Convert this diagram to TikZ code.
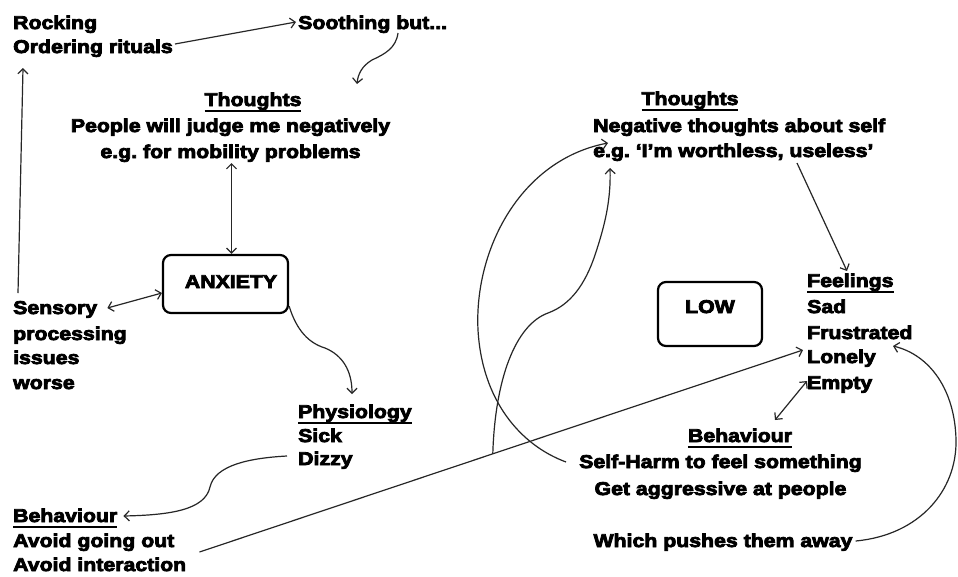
\documentclass[tikz,border=0pt]{standalone}
\usepackage{fontspec}
\newfontfamily\df[FakeStretch=1.15]{Liberation Sans Bold}
\usetikzlibrary{arrows.meta,calc}
\newsavebox\ulbox
\newcommand\ulx[1]{\sbox\ulbox{#1}\rlap{\rule[-5.5pt]{\wd\ulbox}{1.7pt}}\usebox\ulbox}
\newcommand\heavyink{\special{pdf:literal direct 0 G 2 Tr 0.8 w}}
\frenchspacing
\begin{document}
\begin{tikzpicture}[x=1pt,y=-1pt,
  txt/.style={inner sep=0pt, font=\df\fontsize{18.5}{22}\selectfont\heavyink, text=black},
  lw/.style={txt, anchor=base west},
  lc/.style={txt, anchor=base},
  box/.style={txt, draw, line width=2.2pt, rounded corners=8pt, inner xsep=0pt, inner ysep=0pt},
  con/.style={line width=1.2pt, draw=black!85},
  >={Straight Barb[length=5pt,width=10pt]}]
\fill[white] (0,0) rectangle (958,576);
\useasboundingbox (0,0) rectangle (958,576);

% left side
\node[lw] (rock)  at (13,29) {Rocking};
\node[lw] (order) at (13,53) {Ordering rituals};
\node[lw] (sooth) at (298,29) {Soothing but...};
\node[lc] (th1)   at (253,106) {\ulx{Thoughts}};
\node[lc] (th1a)  at (230.5,132) {People will judge me negatively};
\node[lc] (th1b)  at (230.5,158) {e.g. for mobility problems};
\node[box, minimum width=125pt, minimum height=58pt, text height=33pt, text depth=25pt] (anx) at (225.5,284) {\hspace*{11pt}ANXIETY};
\node[lw] (sens)  at (13,314) {Sensory};
\node[lw] (proc)  at (13,340) {processing};
\node[lw] (iss)   at (13,364) {issues};
\node[lw] (wor)   at (13,389) {worse};
\node[lw] (phys)  at (298,418) {\ulx{Physiology}};
\node[lw] (sick)  at (298,442) {Sick};
\node[lw] (dizzy) at (298,465) {Dizzy};
\node[lw] (beh1)  at (13,522) {\ulx{Behaviour}};
\node[lw] (avo1)  at (13,547) {Avoid going out};
\node[lw] (avo2)  at (13,571) {Avoid interaction};

% right side
\node[lc] (th2)   at (690,105) {\ulx{Thoughts}};
\node[lw] (neg)   at (593,132) {Negative thoughts about self};
\node[lw] (eg2)   at (593,157) {e.g. ‘I’m worthless, useless’};
\node[box, minimum width=104pt, minimum height=64pt, text height=31pt, text depth=33pt] (low) at (710,314) {LOW};
\node[lw] (feel)  at (807,287) {\ulx{Feelings}};
\node[lw] (sad)   at (807,313) {Sad};
\node[lw] (frus)  at (807,339) {Frustrated};
\node[lw] (lone)  at (807,363) {Lonely};
\node[lw] (empty) at (807,389) {Empty};
\node[lc] (beh2)  at (740,442) {\ulx{Behaviour}};
\node[lc] (self)  at (720.5,468) {Self-Harm to feel something};
\node[lc] (aggr)  at (720.5,495) {Get aggressive at people};
\node[lc] (push)  at (723,547) {Which pushes them away};

% connectors
\draw[con,->] ($(order.base east)+(2,-9)$) -- ($(sooth.base west)+(-2,-7)$);
\draw[con,->] ($(sooth.base west)+(100,4)$) .. controls (396,48) and (385,54) .. (372,60)
   .. controls (362,66) and (358,74) .. ($(th1.base)+(104,-22)$);
\draw[con,->] ($(sens.base west)+(5,-21)$) -- ($(order.base west)+(10,15)$);
\draw[con,<->] ($(th1b.base)+(1,5)$) -- ($(anx.north)+(6,0)$);
\draw[con,<->] ($(sens.base east)+(10,-6)$) -- ($(anx.west)+(0,9)$);
\draw[con,->] ($(anx.south east)+(0,-8)$) .. controls (295,325) and (305,342) .. (325,348)
   .. controls (342,355) and (352,370) .. ($(phys.base west)+(54,-24)$);
\draw[con,->] ($(dizzy.base west)+(-11,-9)$) .. controls (250,458) and (215,465) .. (210,487)
   .. controls (205,510) and (170,515) .. ($(beh1.base east)+(6,-6)$);
\draw[con,->] ($(avo1.base east)+(25,5)$) -- coordinate[pos=0.486] (jn) ($(lone.base west)+(-4,-13)$);
\draw[con,->] (jn) .. controls (495,380) and (515,325) .. (548,313)
   .. controls (570,305) and (585,285) .. (595,255)
   .. controls (605,225) and (611,200) .. ($(eg2.base west)+(17,11)$);
\draw[con,->] ($(self.base west)+(-13,-6)$) .. controls (520,445) and (482,400) .. (478,330)
   .. controls (474,250) and (520,160) .. ($(eg2.base west)+(15,-14)$);
\draw[con,->] ($(eg2.base west)+(204,6)$) -- ($(feel.base west)+(40,-16)$);
\draw[con,<->] ($(empty.base west)+(0,-8)$) -- ($(beh2.base)+(35,-22)$);
\draw[con,->] ($(push.base east)+(3,-6)$) .. controls (920,535) and (957,490) .. (956,440)
   .. controls (955,390) and (930,355) .. ($(frus.base west)+(86,7)$);
\end{tikzpicture}
\end{document}
